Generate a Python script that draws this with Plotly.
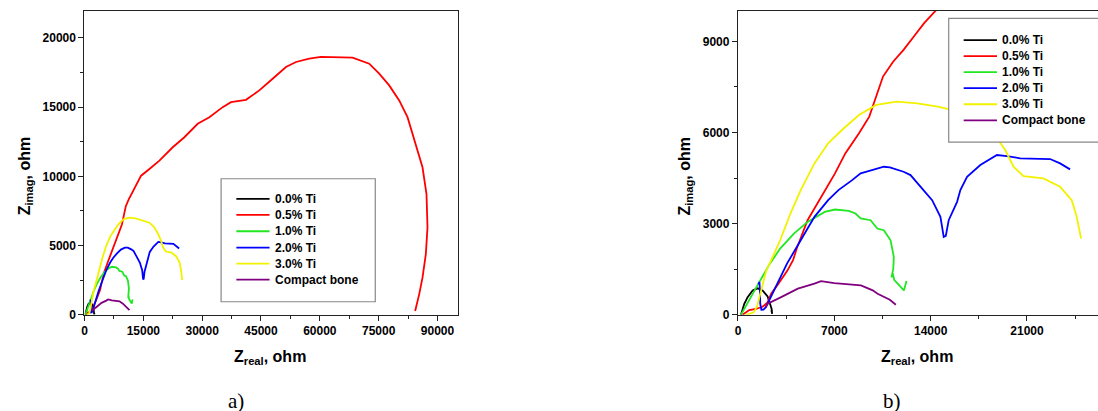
import plotly.graph_objects as go

W, H = 1098, 411          # target picture size (reference pixel grid)
H_FIG = 419               # page height rendered (picture is scaled to 411)

# ---------------- data ----------------
names = ["0.0% Ti", "0.5% Ti", "1.0% Ti", "2.0% Ti", "3.0% Ti", "Compact bone"]
colors = ["#000000", "#ff0000", "#22e622", "#0000ff", "#f2f200", "#800080"]

ti00_x = [217, 457, 700, 1065, 1428, 1790, 2152, 2341, 2442, 2480, 2440, 2530]
ti00_y = [0, 363, 581, 800, 870, 800, 600, 363, 198, 30, 130, 140]

ti05_x = [330, 580, 820, 1300, 1790, 2150, 2410, 2900, 3600, 4000, 4309, 5057, 6053, 7050,
          7797, 8793, 9541, 10039, 10537, 11284, 12031, 12779, 13526, 14433, 16556, 19103,
          22499, 25470, 28866, 31838, 35234, 37356, 41177, 44573, 47969, 51365, 53912, 57308,
          60279, 64100, 68345, 72590, 75137, 77684, 80231, 82353, 84476, 86174, 87192, 87447,
          87023, 86174, 85325, 84300]
ti05_y = [0, 76, 155, 190, 264, 406, 693, 1000, 1462, 1800, 2233, 3113, 3883, 4653,
          5313, 5973, 6523, 7183, 7843, 8338, 8723, 9163, 9603, 10046, 10529, 11133,
          12099, 12824, 13790, 14273, 14997, 15359, 15528, 16205, 17050, 17895, 18257, 18499,
          18620, 18620, 18571, 18136, 17412, 16567, 15480, 14273, 12341, 10650, 8718, 6303,
          4371, 2680, 1473, 268]

ti10_x = [217, 573, 1071, 1546, 2317, 3064, 4060, 5057, 6302, 7050, 8046, 8544, 8913, 9638,
          10123, 10601, 11087, 11326, 11280, 11150, 11250, 11350, 12051, 12246]
ti10_y = [0, 300, 693, 1076, 1683, 2178, 2673, 3058, 3388, 3465, 3421, 3333, 3169, 3113,
          2839, 2783, 2453, 1902, 1500, 1230, 1360, 1150, 802, 1109]

ti20_x = [1480, 1560, 1600, 1616, 1700, 1850, 2029, 2400, 2754, 3562, 4558, 5555, 6551, 7299,
          8295, 8913, 9292, 10288, 10601, 11035, 12031, 12536, 13261, 14108, 14710, 14949,
          15100, 15312, 15920, 16159, 16645, 17609, 18817, 19541, 20507, 22681, 23406, 24130]
ti20_y = [1000, 1080, 700, 363, 165, 170, 251, 600, 967, 1683, 2453, 3223, 3773, 4103,
          4433, 4655, 4708, 4851, 4873, 4851, 4708, 4599, 4213, 3774, 3222, 2562,
          2600, 3113, 3718, 4104, 4543, 4929, 5259, 5226, 5150, 5127, 4985, 4787]

ti30_x = [580, 1150, 1400, 1600, 1800, 2050, 2317, 3064, 3811, 4558, 5555, 6551, 7548, 8793,
          10039, 11533, 13028, 14522, 15519, 16556, 17700, 18757, 19420, 20022, 20746, 22196,
          23406, 24253, 24616, 24930]
ti30_y = [0, 80, 300, 650, 1050, 1450, 1700, 2453, 3333, 4103, 4983, 5643, 6083, 6578,
          6908, 7018, 6963, 6853, 6743, 6650, 6350, 5850, 5423, 4873, 4566, 4490,
          4213, 3774, 3222, 2509]

bone_x = [2000, 2152, 3138, 4348, 5555, 6036, 7000, 7971, 8935, 9790, 10145, 11035, 11471]
bone_y = [250, 363, 581, 858, 1023, 1109, 1043, 1000, 967, 803, 693, 495, 330]

series_x = [ti00_x, ti05_x, ti10_x, ti20_x, ti30_x, bone_x]
series_y = [ti00_y, ti05_y, ti10_y, ti20_y, ti30_y, bone_y]

# axes settings (ticks)
a_x_range, a_x_dtick, a_x_minor = [0, 95160], 15000, 7500
a_y_range, a_y_dtick, a_y_minor = [0, 21960], 5000, 2500
b_x_range, b_x_dtick, b_x_minor = [0, 26160], 7000, 3500
b_y_range, b_y_dtick, b_y_minor = [0, 10010], 3000, 1500

# ---------------- helpers ----------------
def px(x):
    return x / W

def py(y):
    return 1 - y / H

fig = go.Figure()
for xs, ys, nm, c in zip(series_x, series_y, names, colors):
    for xa, ya in (("x", "y"), ("x2", "y2")):
        fig.add_trace(go.Scatter(x=xs, y=ys, name=nm, mode="lines",
                                 line=dict(color=c, width=1.8),
                                 xaxis=xa, yaxis=ya, showlegend=False,
                                 hoverinfo="skip"))

tickfont = dict(family="Liberation Sans, Arial", size=12, color="black", weight="bold")
common = dict(showgrid=False, zeroline=False, showline=True, linecolor="#222",
              linewidth=1.3, ticks="outside", ticklen=5, tickwidth=1.2,
              tickcolor="#222", tickfont=tickfont, tickformat="d", tick0=0)

ydom = [py(314), py(10.7)]
fig.update_layout(
    width=W, height=H_FIG, margin=dict(l=0, r=0, t=0, b=0),
    paper_bgcolor="white", plot_bgcolor="white",
    xaxis=dict(domain=[px(81.7), px(456)], range=a_x_range, dtick=a_x_dtick,
               minor=dict(ticks="outside", ticklen=3, dtick=a_x_minor, tick0=0,
                          tickcolor="#222", tickwidth=1.2),
               mirror=True, anchor="y", **common),
    yaxis=dict(domain=ydom, range=a_y_range, dtick=a_y_dtick,
               minor=dict(ticks="outside", ticklen=3, dtick=a_y_minor, tick0=0,
                          tickcolor="#222", tickwidth=1.2),
               mirror=True, anchor="x", **common),
    xaxis2=dict(domain=[px(737), 1.0], range=b_x_range, dtick=b_x_dtick,
                minor=dict(ticks="outside", ticklen=3, dtick=b_x_minor, tick0=0,
                           tickcolor="#222", tickwidth=1.2),
                mirror=True, anchor="y2", **common),
    yaxis2=dict(domain=ydom, range=b_y_range, dtick=b_y_dtick,
                minor=dict(ticks="outside", ticklen=3, dtick=b_y_minor, tick0=0,
                           tickcolor="#222", tickwidth=1.2),
                mirror=False, anchor="x2", **common),
)

shapes = []
annotations = []

def add_legend(box, line_x0, line_x1, text_x, ys):
    x0, y0, x1, y1 = box
    shapes.append(dict(type="rect", xref="paper", yref="paper",
                       x0=px(x0), y0=py(y1), x1=px(x1), y1=py(y0),
                       line=dict(color="#888", width=1.2), fillcolor="white",
                       layer="above"))
    for yy, nm, c in zip(ys, names, colors):
        shapes.append(dict(type="line", xref="paper", yref="paper",
                           x0=px(line_x0), x1=px(line_x1), y0=py(yy), y1=py(yy),
                           line=dict(color=c, width=1.8), layer="above"))
        annotations.append(dict(xref="paper", yref="paper", x=px(text_x), y=py(yy),
                                text=nm, showarrow=False, xanchor="left",
                                yanchor="middle",
                                font=dict(family="Liberation Sans, Arial", size=12,
                                          color="black", weight="bold")))

add_legend((218.7, 178.3, 373.3, 301), 234, 267.3, 270.5,
           [198.3, 214.3, 230.7, 247, 263, 279])
add_legend((948.3, 18.3, 1115, 141.7), 963.3, 996.7, 999.8,
           [40, 56, 72, 88, 104, 120])

title_font = dict(family="Liberation Sans, Arial", size=16, color="black", weight="bold")
for xx, yy in ((268, 357), (917, 357)):
    annotations.append(dict(xref="paper", yref="paper", x=px(xx), y=py(yy),
                            text="Z<sub>real</sub>, ohm", showarrow=False,
                            xanchor="center", yanchor="middle", font=title_font))
for xx, yy in ((22, 175), (684, 176)):
    annotations.append(dict(xref="paper", yref="paper", x=px(xx), y=py(yy),
                            text="Z<sub>imag</sub>, ohm", showarrow=False,
                            textangle=-90, xanchor="center", yanchor="middle",
                            font=title_font))
for xx, lab in ((234, "a)"), (891, "b)")):
    annotations.append(dict(xref="paper", yref="paper", x=px(xx), y=py(400),
                            text=lab, showarrow=False, xanchor="center",
                            yanchor="middle",
                            font=dict(family="Liberation Serif, Times New Roman",
                                      size=21, color="black")))

fig.update_layout(shapes=shapes, annotations=annotations)

post = ("document.body.style.margin='0';"
        "document.body.style.overflow='hidden';")
fig.write_html("out.html", post_script=post, config={"displayModeBar": False})
